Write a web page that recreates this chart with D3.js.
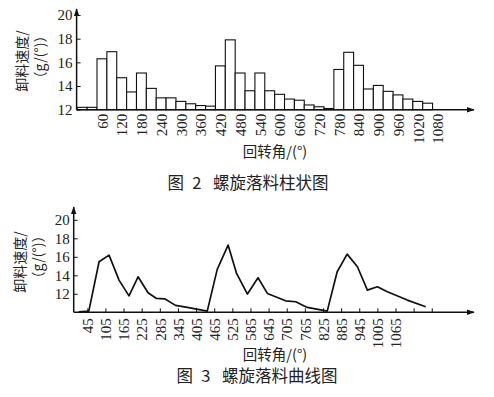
<!DOCTYPE html>
<html><head><meta charset="utf-8">
<script src="https://cdn.jsdelivr.net/npm/d3@7"></script>
<style>
body{margin:0;background:#fff;}
svg{display:block;}
</style></head>
<body>
<svg id="chart" width="494" height="397"></svg>
<script>
// ---------- data ----------
const barAngles = [0,30,60,90,120,150,180,210,240,270,300,330,360,390,420,450,480,510,540,570,600,630,660,690,720,750,780,810,840,870,900,930,960,990,1020,1050];
const barValues = [12.2,12.2,16.3,16.9,14.7,13.5,15.1,13.8,13.0,13.0,12.7,12.5,12.35,12.3,15.7,17.9,15.1,13.6,15.1,13.6,13.3,12.9,12.8,12.4,12.25,12.1,15.4,16.85,15.75,13.75,14.05,13.55,13.25,12.9,12.7,12.55];
const barTickLabels = [60,120,180,240,300,360,420,480,540,600,660,720,780,840,900,960,1020,1080];

const lineAngles = [17,50,84,117,150,183,213,246,274,301,337,376,442,475,511,539,575,610,641,668,701,735,773,839,872,905,939,972,1005,1038,1104,1165];
const lineValues = [10.05,10.13,15.46,16.18,13.48,11.78,13.84,12.11,11.5,11.46,10.75,10.53,10.13,14.64,17.27,14.2,11.97,13.73,12.04,11.68,11.24,11.14,10.53,10.13,14.38,16.29,14.92,12.4,12.76,12.22,11.32,10.6];
const lineTickValues = [45,105,165,225,285,345,405,465,525,585,645,705,765,825,885,945,1005,1065,1125,1185];
const lineTickLabels = [45,105,165,225,285,345,405,465,525,585,645,705,765,825,885,945,1005,1065];

const yTicksTop = [12,14,16,18,20];
const yTicksBottom = [12,14,16,18,20];

const yTitle1 = "卸料速度/";
const yTitle2 = "（g/(°)）";
const xTitle = "回转角/(°)";
const caption1 = "图\u20022\u2002\u2009螺旋落料柱状图";
const caption2 = "图\u20023\u2002\u2009螺旋落料曲线图";

const SERIF = '"Liberation Serif","Times New Roman","DejaVu Serif",serif';
const CJK = '"Noto Sans CJK SC","Noto Sans CJK JP",sans-serif';

// ---------- drawing ----------
const svg = d3.select("#chart");
const defs = svg.append("defs");
defs.append("marker").attr("id","arrow").attr("viewBox","0 0 10 10")
  .attr("refX",9).attr("refY",5).attr("markerWidth",8).attr("markerHeight",8)
  .attr("markerUnits","userSpaceOnUse").attr("orient","auto")
  .append("path").attr("d","M0,1.5 L10,5 L0,8.5 Z").attr("fill","#111");

function axisLines(g, x0, y0, xEnd, yTop){
  g.append("line").attr("x1",x0).attr("y1",y0).attr("x2",xEnd).attr("y2",y0)
    .attr("stroke","#111").attr("stroke-width",1.5).attr("marker-end","url(#arrow)");
  g.append("line").attr("x1",x0).attr("y1",y0).attr("x2",x0).attr("y2",yTop)
    .attr("stroke","#111").attr("stroke-width",1.5).attr("marker-end","url(#arrow)");
}

function styleNum(sel){
  sel.attr("font-family", null).attr("font-size", null)
    .style("font-family", SERIF).style("font-size","15px").attr("fill","#222");
}

function cjkText(x, y, size, txt, rotate){
  const t = svg.append("text")
    .style("font-family", CJK).style("font-size", size + "px").attr("fill","#222")
    .attr("text-anchor","middle").text(txt);
  if (rotate) t.attr("transform",`translate(${x},${y}) rotate(-90)`).attr("dy","0.35em");
  else t.attr("x",x).attr("y",y);
  return t;
}

// ===== Top: bar chart =====
const xTop = d3.scaleLinear().domain([0,1080]).range([82.2,437.5]);
const yTop = d3.scaleLinear().domain([12,20]).range([109.7,15]);
const bw = xTop(30) - xTop(0);
const gTop = svg.append("g");

gTop.selectAll("rect.bar").data(barAngles).join("rect").attr("class","bar")
  .attr("x", d => xTop(d) - bw/2)
  .attr("width", bw)
  .attr("y", (d,i) => yTop(barValues[i]))
  .attr("height", (d,i) => yTop(12) - yTop(barValues[i]))
  .attr("fill","#fff").attr("stroke","#111").attr("stroke-width",1.1);

axisLines(gTop, xTop(-17), yTop(12), 474, 9);

const yAxTop = gTop.append("g").attr("transform",`translate(${xTop(-17)},0)`)
  .call(d3.axisLeft(yTop).tickValues(yTicksTop).tickSizeInner(-4).tickSizeOuter(0).tickPadding(4));
yAxTop.select(".domain").remove();
yAxTop.call(styleNum);
yAxTop.selectAll("text").call(styleNum);
yAxTop.selectAll(".tick line").attr("stroke","#111");

const xAxTop = gTop.append("g").attr("transform",`translate(0,${yTop(12)})`)
  .call(d3.axisBottom(xTop).tickValues(barTickLabels).tickSize(0).tickFormat(d3.format("d")));
xAxTop.select(".domain").remove();
xAxTop.call(styleNum);
xAxTop.selectAll("text").call(styleNum)
  .attr("transform","rotate(-90)").attr("x",-4).attr("y",0).attr("dy","0.35em")
  .style("text-anchor","end");

cjkText(22, 61, 14, yTitle1, true);
cjkText(40, 57, 14, yTitle2, true);
cjkText(275, 157, 14.5, xTitle, false);
cjkText(248, 189, 16.5, caption1, false);

// ===== Bottom: line chart =====
const xBot = d3.scaleLinear().domain([0,1065]).range([73.7,395.5]);
const yBot = d3.scaleLinear().domain([10,20]).range([312.3,219.8]);
const gBot = svg.append("g");

axisLines(gBot, xBot(0), yBot(10), 474, 207);

const yAxBot = gBot.append("g").attr("transform",`translate(${xBot(0)},0)`)
  .call(d3.axisLeft(yBot).tickValues(yTicksBottom).tickSizeInner(-4).tickSizeOuter(0).tickPadding(4));
yAxBot.select(".domain").remove();
yAxBot.call(styleNum);
yAxBot.selectAll("text").call(styleNum);
yAxBot.selectAll(".tick line").attr("stroke","#111");

const xAxBot = gBot.append("g").attr("transform",`translate(0,${yBot(10)})`)
  .call(d3.axisBottom(xBot).tickValues(lineTickValues).tickSizeInner(-4).tickSizeOuter(0)
    .tickFormat(d => lineTickLabels.includes(d) ? d3.format("d")(d) : ""));
xAxBot.select(".domain").remove();
xAxBot.call(styleNum);
xAxBot.selectAll(".tick line").attr("stroke","#111");
xAxBot.selectAll("text").call(styleNum)
  .attr("transform","rotate(-90)").attr("x",-6).attr("y",0).attr("dy","0.35em")
  .style("text-anchor","end");

const lineData = lineAngles.map((a,i) => [a, lineValues[i]]);
gBot.append("path").datum(lineData)
  .attr("d", d3.line().x(d => xBot(d[0])).y(d => yBot(d[1])))
  .attr("fill","none").attr("stroke","#111").attr("stroke-width",1.7).attr("stroke-linejoin","round");

cjkText(20, 262, 14, yTitle1, true);
cjkText(38, 257, 14, yTitle2, true);
cjkText(275, 360, 14.5, xTitle, false);
cjkText(257, 382, 16.5, caption2, false);
</script>
</body></html>
